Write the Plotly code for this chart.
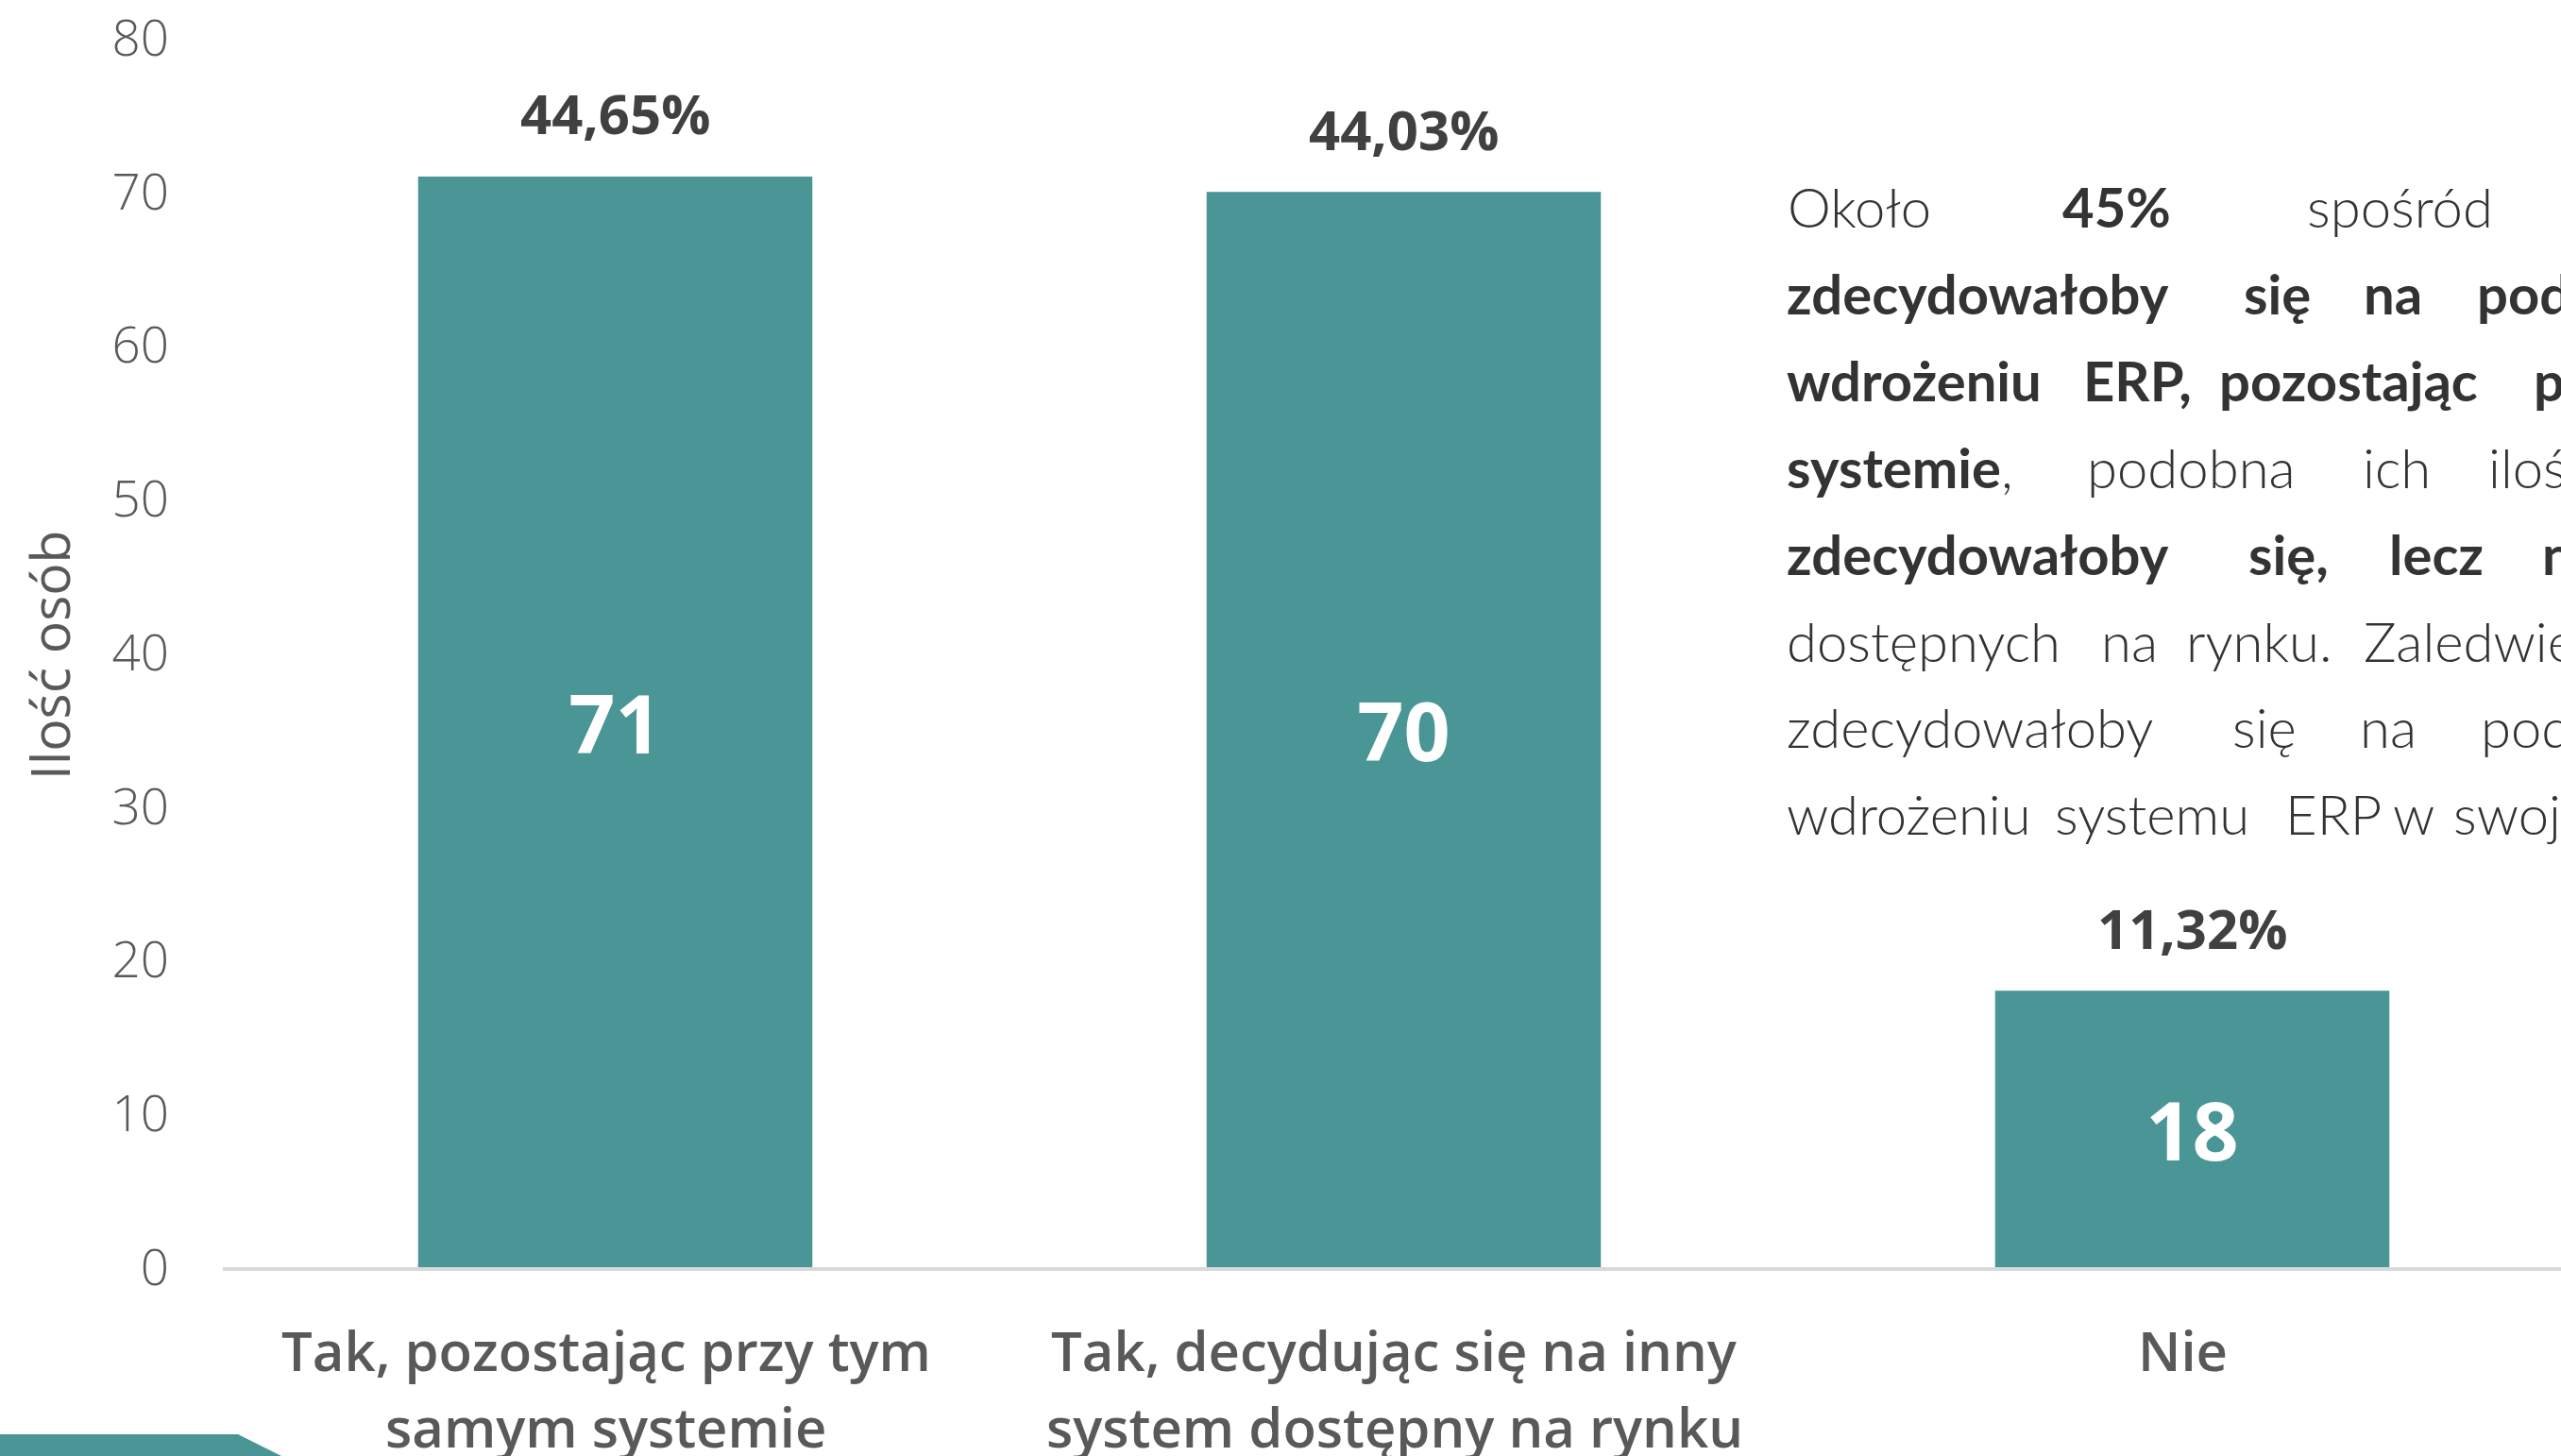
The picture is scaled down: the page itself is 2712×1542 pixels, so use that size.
import plotly.graph_objects as go

# ---------------- data ----------------
categories = ["Tak, pozostając przy tym<br>samym systemie",
              "Tak, decydując się na inny<br>system dostępny na rynku",
              "Nie"]
counts = [71, 70, 18]
percent_labels = ["44,65%", "44,03%", "11,32%"]
y_ticks = [0, 10, 20, 30, 40, 50, 60, 70, 80]
y_title = "Ilość osób"

# side text (justified paragraph, cropped at the right edge)
text_lines = [
    ["Około", "<b>45%</b>", "spośród"],
    ["<b>zdecydowałoby</b>", "<b>się</b>", "<b>na</b>", "<b>podjęcie</b>"],
    ["<b>wdrożeniu</b>", "<b>ERP,</b>", "<b>pozostając</b>", "<b>przy</b>"],
    ["<b>systemie</b>,", "podobna", "ich", "ilość"],
    ["<b>zdecydowałoby</b>", "<b>się,</b>", "<b>lecz</b>", "<b>na</b>"],
    ["dostępnych", "na", "rynku.", "Zaledwie"],
    ["zdecydowałoby", "się", "na", "podjęcie"],
    ["wdrożeniu", "systemu", "ERP", "w", "swojej"],
]
# ---------------- layout constants (pixels) ----------------
W, H = 2712, 1542
TEAL = "#4A9595"
word_x = [
    [1895, 2186, 2445],
    [1894, 2378, 2505, 2625],
    [1894, 2208, 2352, 2685],
    [1894, 2212, 2504, 2637],
    [1894, 2383, 2532, 2694],
    [1894, 2227, 2317, 2505],
    [1894, 2366, 2501, 2629],
    [1894, 2178, 2422, 2536, 2600],
]
base0, line_gap = 241, 91.9
box_font = 58

plot_left, y0_px, ytop_px = 236, 1342, 40.5
cat_step_px = 835.0
cat0_center_px = 651.5


def fx(px):
    return px / W


def fy(py):
    return 1 - py / H


x_range = [-(cat0_center_px - plot_left) / cat_step_px,
           (W - cat0_center_px) / cat_step_px]

fig = go.Figure()
fig.add_trace(go.Bar(
    x=list(range(len(categories))),
    y=counts,
    marker=dict(color=TEAL, line=dict(width=0)),
    text=[str(v) for v in counts],
    textposition="inside",
    insidetextanchor="middle",
    textfont=dict(family="Open Sans", size=86, color="white", weight=700),
    cliponaxis=False,
    hoverinfo="skip",
))

annotations = []
# percentage labels above the bars
for i, (v, p) in enumerate(zip(counts, percent_labels)):
    annotations.append(dict(
        x=i, y=v, xref="x", yref="y", text=p, showarrow=False,
        xanchor="center", yanchor="middle", yshift=67,
        font=dict(family="Open Sans", size=58, color="#404040", weight=700)))

# category labels (one annotation per line)
cat_font = 58
for i, c in enumerate(categories):
    for j, line in enumerate(c.split("<br>")):
        base = 1452 + j * 81
        annotations.append(dict(
            x=i, y=fy(base - 0.388 * cat_font), xref="x", yref="paper",
            text=line, showarrow=False, xanchor="center", yanchor="middle",
            xshift=-10,
            font=dict(family="Open Sans", size=cat_font, color="#595959", weight=600)))

# y-axis title
annotations.append(dict(
    x=fx(52), y=fy(694), xref="paper", yref="paper", text=y_title,
    showarrow=False, textangle=-90, xanchor="center", yanchor="middle",
    font=dict(family="Open Sans", size=57, color="#595959", weight=400)))

# paragraph words
for li, (words, xs) in enumerate(zip(text_lines, word_x)):
    base = base0 + li * line_gap
    for w, x in zip(words, xs):
        annotations.append(dict(
            x=fx(x - 4), y=fy(base - 0.387 * box_font), xref="paper", yref="paper",
            text=w, showarrow=False, xanchor="left", yanchor="middle",
            font=dict(family="Lato", size=box_font, color="#333333", weight=300)))

shapes = [dict(
    type="path", xref="paper", yref="paper",
    path=(f"M {fx(0)},{fy(1519)} L {fx(252)},{fy(1519)} "
          f"L {fx(298)},{fy(1542)} L {fx(0)},{fy(1542)} Z"),
    fillcolor=TEAL, line=dict(width=0), layer="above")]

fig.update_layout(
    template="none",
    width=W, height=H,
    margin=dict(l=0, r=0, t=0, b=0, pad=0, autoexpand=False),
    paper_bgcolor="white", plot_bgcolor="white",
    showlegend=False, bargap=0.5,
    font=dict(family="Open Sans", color="#595959"),
    xaxis=dict(domain=[fx(plot_left), 1], range=x_range, automargin=False,
               showticklabels=False, showgrid=False, zeroline=False,
               showline=True, linecolor="#D9D9D9", linewidth=4, ticks="",
               fixedrange=True),
    yaxis=dict(domain=[fy(y0_px), fy(ytop_px)], range=[0, 80], automargin=False,
               tickvals=y_ticks, ticktext=[str(t) for t in y_ticks],
               showgrid=False, zeroline=False, showline=False, ticks="",
               ticklabelstandoff=56,
               tickfont=dict(family="Open Sans", size=53, color="#595959", weight=300),
               fixedrange=True),
    annotations=annotations,
    shapes=shapes,
)

fig.write_html("out.html", config={"displayModeBar": False},
               post_script="document.body.style.margin='0';")
